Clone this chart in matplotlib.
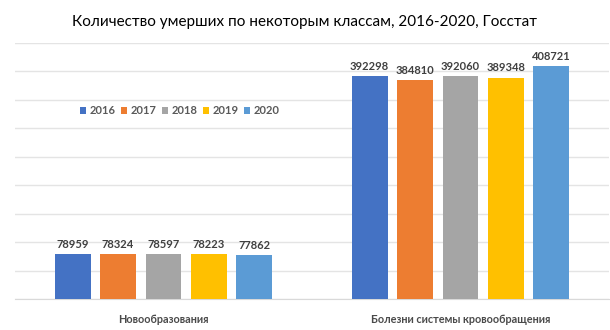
import matplotlib
matplotlib.use("Agg")
import matplotlib.pyplot as plt
import numpy as np

categories = ["Новообразования", "Болезни системы кровообращения"]
years = ["2016", "2017", "2018", "2019", "2020"]
values = {
    "2016": [78959, 392298],
    "2017": [78324, 384810],
    "2018": [78597, 392060],
    "2019": [78223, 389348],
    "2020": [77862, 408721],
}
colors = ["#4472C4", "#ED7D31", "#A5A5A5", "#FFC000", "#5B9BD5"]
title = "Количество умерших по некоторым классам, 2016-2020, Госстат"

plt.rcParams["font.family"] = ["Lato", "DejaVu Sans"]

fig = plt.figure(figsize=(6.1, 3.3), dpi=100)
ax = fig.add_axes([15 / 610, 1 - 299 / 330, 594 / 610, 256 / 330])

x = np.arange(len(categories))
width = 0.121
step = 0.153
for i, (yr, c) in enumerate(zip(years, colors)):
    pos = x + (i - 2) * step
    bars = ax.bar(pos, values[yr], width, color=c, label=yr, zorder=3)
    for b, v in zip(bars, values[yr]):
        ax.annotate(f"{v}", (b.get_x() + b.get_width() / 2, v),
                    xytext=(0, 3), textcoords="offset points",
                    ha="center", va="bottom", fontsize=8,
                    fontweight="bold", color="#404040")

ax.set_xlim(-0.5, 1.5)
ax.set_ylim(0, 450000)
ax.set_yticks(np.arange(0, 450001, 50000))
ax.yaxis.grid(True, color="#E4E4E4", linewidth=1, zorder=0)
ax.tick_params(axis="y", left=False, labelleft=False)
ax.tick_params(axis="x", bottom=False, labelsize=7.8, labelcolor="#4A4A4A", pad=7)
ax.set_xticks(x)
ax.set_xticklabels(categories, fontweight="bold")
for s in ["top", "right", "left"]:
    ax.spines[s].set_visible(False)
ax.spines["bottom"].set_color("#D9D9D9")

leg = ax.legend(loc="center", bbox_to_anchor=(165 / 594, (299 - 111) / 256),
                ncol=5, frameon=False, prop={"size": 8, "weight": "bold"},
                handlelength=0.55, handleheight=0.55, handletextpad=0.35,
                columnspacing=0.45, labelcolor="#595959")

fig.text(0.5, 1 - 22 / 330, title, ha="center", va="center", fontsize=11,
         color="#000000")

fig.savefig("out.png", dpi=100)
